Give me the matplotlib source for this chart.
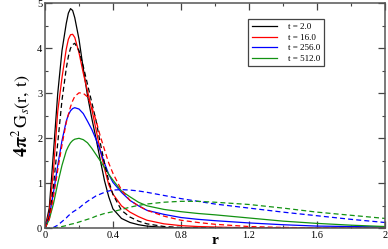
import matplotlib
matplotlib.use('Agg')
import matplotlib.pyplot as plt
from matplotlib.ticker import MultipleLocator

# --- DATA ---
times = ['2.0', '16.0', '256.0', '512.0']
colors = ['black', 'red', 'blue', '#129212']

r_fine = [0.0, 0.025, 0.05, 0.075, 0.1, 0.125, 0.1375, 0.15, 0.1625, 0.175, 0.2,
          0.225, 0.25, 0.275, 0.3, 0.325, 0.35, 0.375, 0.4, 0.45, 0.5, 0.55,
          0.6, 0.7, 0.8, 0.9, 1.0, 1.2, 1.4, 1.6, 1.8, 2.0]

# solid curves
gs_t2 = [0.0, 0.45, 1.7, 3.0, 3.95, 4.55, 4.78, 4.88, 4.84, 4.68, 4.2,
         3.55, 2.95, 2.45, 2.0, 1.52, 1.06, 0.7, 0.43, 0.22, 0.13, 0.08,
         0.05, 0.02, 0.01, 0.005, 0.0, 0.0, 0.0, 0.0, 0.0, 0.0]
gs_t16 = [0.0, 0.35, 1.3, 2.6, 3.35, 3.98, 4.2, 4.3, 4.31, 4.24, 3.9,
          3.45, 3.05, 2.65, 2.2, 1.73, 1.33, 0.97, 0.76, 0.5, 0.36, 0.26,
          0.18, 0.1, 0.06, 0.04, 0.03, 0.01, 0.005, 0.0, 0.0, 0.0]
gs_t256 = [0.0, 0.25, 0.8, 1.4, 1.95, 2.38, 2.52, 2.61, 2.66, 2.68, 2.65,
           2.55, 2.38, 2.2, 1.98, 1.73, 1.45, 1.2, 1.02, 0.8, 0.62, 0.5,
           0.4, 0.31, 0.24, 0.2, 0.17, 0.12, 0.08, 0.05, 0.04, 0.03]
gs_t512 = [0.0, 0.2, 0.55, 1.0, 1.4, 1.72, 1.82, 1.9, 1.95, 1.98, 2.0,
           1.97, 1.9, 1.78, 1.64, 1.5, 1.35, 1.2, 1.07, 0.83, 0.7, 0.58,
           0.5, 0.42, 0.37, 0.33, 0.3, 0.23, 0.16, 0.11, 0.07, 0.04]

# dashed curves
gd_t2 = [0.0, 0.25, 0.95, 1.9, 2.85, 3.55, 3.82, 4.0, 4.08, 4.11, 3.95,
         3.6, 3.2, 2.8, 2.4, 1.9, 1.45, 1.05, 0.75, 0.4, 0.25, 0.16,
         0.1, 0.04, 0.02, 0.01, 0.01, 0.0, 0.0, 0.0, 0.0, 0.0]
gd_t16 = [0.0, 0.2, 0.7, 1.3, 1.85, 2.35, 2.53, 2.7, 2.83, 2.93, 3.01,
          3.0, 2.92, 2.7, 2.4, 2.05, 1.75, 1.45, 1.22, 0.85, 0.62, 0.5,
          0.4, 0.27, 0.18, 0.13, 0.09, 0.04, 0.02, 0.01, 0.0, 0.0]
gd_t256 = [0.0, 0.0, 0.02, 0.07, 0.15, 0.23, 0.28, 0.32, 0.36, 0.39, 0.45,
           0.53, 0.6, 0.66, 0.72, 0.76, 0.8, 0.83, 0.85, 0.86, 0.85, 0.83,
           0.8, 0.73, 0.66, 0.6, 0.54, 0.45, 0.36, 0.28, 0.2, 0.13]
gd_t512 = [0.0, 0.0, 0.01, 0.02, 0.04, 0.06, 0.075, 0.09, 0.1, 0.11, 0.14,
           0.17, 0.2, 0.23, 0.27, 0.3, 0.33, 0.35, 0.37, 0.42, 0.47, 0.51,
           0.54, 0.58, 0.6, 0.6, 0.58, 0.53, 0.45, 0.36, 0.29, 0.22]

solid = [gs_t2, gs_t16, gs_t256, gs_t512]
dashed = [gd_t2, gd_t16, gd_t256, gd_t512]

x_ticks = [0, 0.4, 0.8, 1.2, 1.6, 2.0]
x_ticklabels = ['0', '0.4', '0.8', '1.2', '1.6', '2']
y_ticks = [0, 1, 2, 3, 4, 5]

# --- STYLE ---
plt.rcParams['font.family'] = ['Liberation Serif', 'DejaVu Serif']
plt.rcParams['mathtext.fontset'] = 'stix'

fig = plt.figure(figsize=(3.88, 2.49), dpi=100)
ax = fig.add_axes([0.116, 0.083, 0.876, 0.904])

for ys, c, t in zip(solid, colors, times):
    ax.plot(r_fine, ys, color=c, linewidth=0.9, label=f't = {t}')
for ys, c in zip(dashed, colors):
    ax.plot(r_fine, ys, color=c, linewidth=0.9, linestyle=(0, (4, 2.5)))

ax.set_xlim(0, 2)
ax.set_ylim(0, 5)
ax.set_xticks(x_ticks)
ax.set_xticklabels(x_ticklabels)
ax.set_yticks(y_ticks)
ax.xaxis.set_minor_locator(MultipleLocator(0.2))
ax.yaxis.set_minor_locator(MultipleLocator(0.5))
ax.tick_params(which='both', direction='in', top=True, right=True,
               labelsize=7.5, color='#444444', pad=2)
ax.tick_params(which='major', length=5, width=0.9)
ax.tick_params(which='minor', length=2.5, width=0.8)
for sp in ax.spines.values():
    sp.set_color('#555555')
    sp.set_linewidth(1.1)

ax.set_xlabel('r', fontsize=11, fontweight='bold', labelpad=-4.5)
ax.set_ylabel(r'$\mathbf{4\pi}^{2}\,\mathrm{G}_{s}\mathrm{(r,\,t)}$', fontsize=13, labelpad=3)

leg = ax.legend(loc='upper left', bbox_to_anchor=(0.597, 0.929), borderaxespad=0,
                fontsize=6.5, handlelength=2.8, handletextpad=1.2, labelspacing=0.25,
                borderpad=0.4, fancybox=False, framealpha=1)
leg.get_frame().set_edgecolor('#444444')
leg.get_frame().set_linewidth(0.9)

fig.savefig('out.png', dpi=100)
